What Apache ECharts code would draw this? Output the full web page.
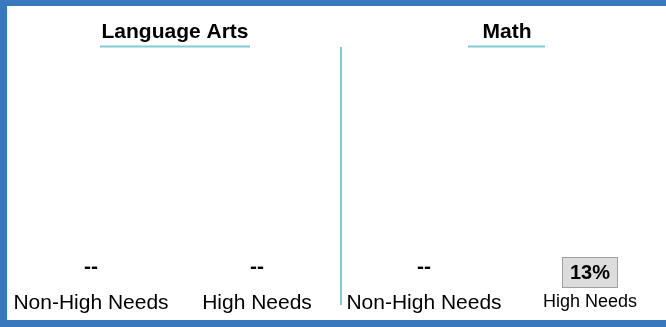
<!DOCTYPE html>
<html>
<head>
<meta charset="utf-8">
<script src="https://cdn.jsdelivr.net/npm/echarts@6/dist/echarts.min.js"></script>
<style>
  html, body { margin: 0; padding: 0; background: #ffffff; }
  #wrap {
    width: 666px; height: 327px; box-sizing: border-box;
    border-left: 7px solid #3a78be; border-top: 6px solid #3a78be; border-bottom: 7px solid #3a78be;
    position: relative; overflow: hidden;
  }
  #chart { position: absolute; left: -7px; top: -6px; width: 680px; height: 327px; }
</style>
</head>
<body>
<div id="wrap"><div id="chart"></div></div>
<script>
// data
const subjects = ['Language Arts', 'Math']
const categories = ['Non-High Needs', 'High Needs']
const laValues = [null, null]
const mathValues = [null, 13]

const chart = echarts.init(document.getElementById('chart'))
const teal = '#80cbd6'
const font = 'Liberation Sans, Arial, sans-serif'

// 把数组转成柱子数据，空值显示 --
const toBars = (vals) => vals.map(v => {
    if (v === null) {
        return { value: 0, raw: null, label: { distance: 10 } }
    }
    return {
        value: v,
        raw: v,
        label: {
            distance: 1,
            fontWeight: 'bold',
            fontSize: 20,
            backgroundColor: '#dcdcdc',
            borderColor: '#a0a0a0',
            borderWidth: 1,
            padding: [5, 7, 4, 7]
        }
    }
})

const barLabel = {
    show: true,
    position: 'insideBottom',
    color: '#000',
    fontFamily: font,
    fontSize: 21,
    fontWeight: 'bold',
    formatter: p => p.data.raw === null ? '--' : p.data.raw + '%'
}

const xAxisBase = (idx, smallLast) => ({
    type: 'category',
    gridIndex: idx,
    data: categories,
    axisLine: { show: false },
    axisTick: { show: false },
    axisLabel: {
        interval: 0,
        margin: 5,
        color: '#000',
        fontFamily: font,
        fontSize: 21,
        formatter: (val, i) => (smallLast && i === 1) ? '{s|' + val + '}' : val,
        rich: { s: { fontSize: 18, fontFamily: font, color: '#000', padding: [0, 0, 4, 0] } }
    }
})

const yAxisBase = idx => ({
    type: 'value', gridIndex: idx, min: 0, max: 100, show: false
})

const option = {
    animation: false,
    title: [
        { text: subjects[0], left: 175, top: 22, textAlign: 'center', padding: 0,
          textStyle: { fontFamily: font, fontSize: 21, fontWeight: 'bold', color: '#000' } },
        { text: subjects[1], left: 507, top: 22, textAlign: 'center', padding: 0,
          textStyle: { fontFamily: font, fontSize: 21, fontWeight: 'bold', color: '#000' } }
    ],
    grid: [
        { left: 8, width: 332, top: 60, bottom: 39 },
        { left: 341, width: 332, top: 60, bottom: 39 }
    ],
    xAxis: [xAxisBase(0, false), xAxisBase(1, true)],
    yAxis: [yAxisBase(0), yAxisBase(1)],
    series: [
        { type: 'bar', xAxisIndex: 0, yAxisIndex: 0, barWidth: '40%',
          itemStyle: { color: 'rgba(0,0,0,0)' }, label: barLabel, data: toBars(laValues) },
        { type: 'bar', xAxisIndex: 1, yAxisIndex: 1, barWidth: '40%',
          itemStyle: { color: 'rgba(0,0,0,0)' }, label: barLabel, data: toBars(mathValues) }
    ],
    graphic: [
        { type: 'line', shape: { x1: 100, y1: 46.5, x2: 250, y2: 46.5 }, style: { stroke: teal, lineWidth: 2 } },
        { type: 'line', shape: { x1: 468, y1: 46.5, x2: 545, y2: 46.5 }, style: { stroke: teal, lineWidth: 2 } },
        { type: 'line', shape: { x1: 341, y1: 47, x2: 341, y2: 305 }, style: { stroke: teal, lineWidth: 2 } }
    ]
}

chart.setOption(option)
window.addEventListener('resize', () => chart.resize())
</script>
</body>
</html>
